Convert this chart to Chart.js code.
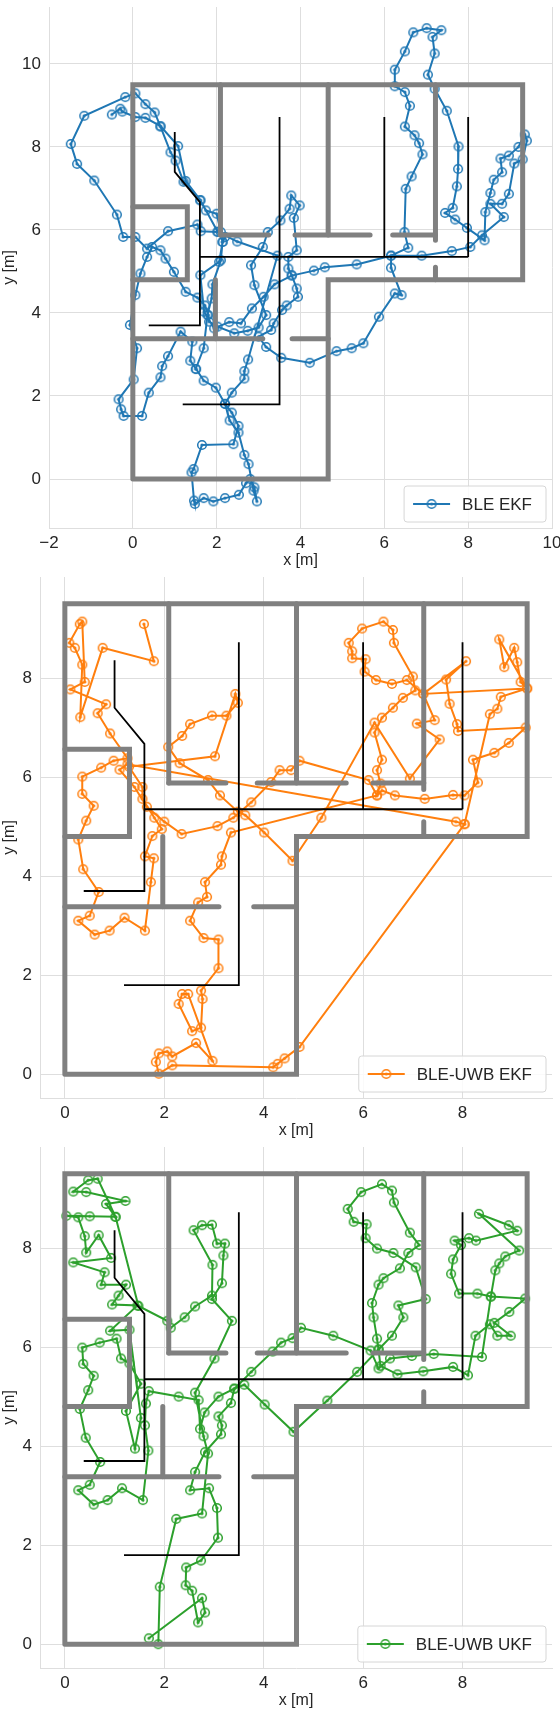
<!DOCTYPE html>
<html>
<head>
<meta charset="utf-8">
<script src="https://cdn.jsdelivr.net/npm/chart.js@4"></script>
<style>
body { margin: 0; background: #fff; }
.panel { position: absolute; left: 0; width: 560px; height: 570px; }
</style>
</head>
<body>
<div class="panel" style="top:0"><canvas id="c1"></canvas></div>
<div class="panel" style="top:570px"><canvas id="c2"></canvas></div>
<div class="panel" style="top:1140px"><canvas id="c3"></canvas></div>
<script>
// floor plan, metres
const grayWalls = [
    [[0, 0], [4.66, 0], [4.66, 4.8], [9.3, 4.8], [9.3, 9.5], [0, 9.5], [0, 0]],
    [[2.09, 9.5], [2.09, 5.88]],
    [[4.66, 9.5], [4.66, 5.88]],
    [[7.22, 9.5], [7.22, 5.75]],
    [[2.09, 5.88], [3.24, 5.88]],
    [[3.87, 5.88], [5.66, 5.88]],
    [[6.2, 5.88], [7.22, 5.88]],
    [[7.22, 5.1], [7.22, 4.8]],
    [[0, 6.56], [1.3, 6.56], [1.3, 4.8], [0, 4.8]],
    [[1.97, 4.8], [1.97, 3.38]],
    [[0, 3.38], [3.1, 3.38]],
    [[3.8, 3.38], [4.66, 3.38]]
];
const blackWalls = [
    [[1.0, 8.36], [1.0, 7.4], [1.6, 6.67], [1.6, 3.7], [0.38, 3.7]],
    [[3.5, 8.72], [3.5, 1.8], [1.19, 1.8]],
    [[1.6, 5.35], [8.0, 5.35]],
    [[6.0, 8.72], [6.0, 5.35]],
    [[8.0, 8.72], [8.0, 5.35]]
];

const bleEkf = [
    [-0.5, 8.78], [-0.3, 8.92], [-0.25, 8.85], [0.06, 8.72], [0.3, 8.7], [0.66, 8.5], [1.08, 8.02],
    [1.26, 7.18], [1.61, 6.72], [2.02, 5.96], [2.49, 5.72], [3.45, 5.38],
    [2.75, 2.88], [2.66, 2.6], [2.66, 2.42], [2.36, 2.08], [2.2, 1.81], [2.36, 1.6], [2.52, 1.28],
    [2.4, 0.84], [1.65, 0.82], [1.45, 0.24], [1.4, 0.16], [1.46, -0.52], [1.48, -0.6], [1.69, -0.46],
    [1.92, -0.54], [2.2, -0.46], [2.53, -0.38], [2.7, -0.1], [2.8, 0.0], [2.9, -0.2], [2.96, -0.54],
    [2.88, -0.28], [2.76, 0.36], [2.66, 0.58], [2.52, 1.12], [2.31, 1.41], [2.2, 1.81], [1.98, 2.2],
    [1.69, 2.37], [1.51, 2.65], [1.37, 2.85], [1.42, 3.31], [1.14, 3.55], [0.84, 2.96], [0.7, 2.72],
    [0.66, 2.45], [0.38, 2.08], [0.22, 1.52], [-0.22, 1.52], [-0.28, 1.68], [-0.34, 1.92], [0.02, 2.4],
    [0.1, 3.15], [-0.07, 3.71], [0.06, 4.43], [0.18, 4.95], [0.34, 5.35], [0.46, 5.59], [0.66, 5.51],
    [0.78, 5.31], [0.98, 4.99], [1.26, 4.51], [1.54, 4.37], [1.72, 4.18], [1.8, 3.95], [1.82, 3.79],
    [2.02, 3.67], [2.42, 3.51], [2.74, 3.57], [3.0, 3.65], [3.18, 3.95], [2.9, 4.67], [2.82, 5.15],
    [3.1, 5.59], [3.22, 5.95], [3.52, 6.23], [3.74, 6.51], [3.78, 6.83], [3.98, 6.59], [3.84, 6.29],
    [3.91, 5.51], [3.71, 5.35], [3.71, 5.07], [3.79, 4.91], [3.91, 4.59], [3.94, 4.39], [3.67, 4.18],
    [3.56, 4.07], [3.36, 3.75], [3.3, 3.59], [3.0, 3.43], [3.18, 3.18], [3.54, 2.92], [4.22, 2.8],
    [4.86, 3.08], [5.22, 3.15], [5.5, 3.27], [5.87, 3.91], [6.25, 4.47], [6.41, 4.43], [6.16, 5.09],
    [6.16, 5.38], [6.57, 5.57], [6.48, 5.95], [6.51, 6.99], [6.65, 7.29], [6.91, 7.82], [6.83, 8.09],
    [6.72, 8.28], [6.49, 8.49], [6.61, 8.99], [6.49, 9.32], [6.25, 9.46], [6.25, 9.86], [6.49, 10.3],
    [6.69, 10.76], [7.01, 10.86], [7.36, 10.81], [7.15, 10.65], [7.2, 10.25], [7.04, 9.74], [7.2, 9.4],
    [7.49, 8.87], [7.77, 8.01], [7.76, 7.47], [7.73, 7.05], [7.63, 6.53], [7.45, 6.41], [7.69, 6.25],
    [7.97, 6.05], [8.39, 5.75], [8.41, 6.43], [8.53, 6.89], [8.61, 7.21], [8.81, 7.39], [8.77, 7.72],
    [8.97, 7.79], [9.2, 8.0], [9.35, 8.3], [9.4, 8.15], [9.3, 7.7], [9.1, 7.6], [8.97, 6.87],
    [8.81, 6.63], [8.53, 6.63], [8.85, 6.31], [8.33, 5.87], [8.05, 5.59], [7.61, 5.49], [6.89, 5.38],
    [6.16, 5.38], [5.34, 5.17], [4.58, 5.1], [4.32, 5.02], [3.79, 4.9], [3.38, 4.69], [3.12, 4.39],
    [2.84, 4.11], [2.58, 3.75], [2.3, 3.78], [1.94, 3.63], [1.7, 4.03], [1.61, 4.91], [2.06, 5.23],
    [2.14, 5.71], [2.2, 5.83], [2.02, 5.95], [1.62, 5.97], [1.54, 6.13], [0.84, 5.97], [0.34, 5.55],
    [0.06, 5.83], [-0.23, 5.83], [-0.38, 6.37], [-0.92, 7.19], [-1.33, 7.59], [-1.48, 8.07],
    [-1.16, 8.75], [-0.18, 9.2], [0.06, 9.29], [0.3, 9.03], [0.52, 8.83], [0.66, 8.49], [0.9, 7.87],
    [1.02, 7.67], [1.21, 7.16], [1.61, 6.71], [1.74, 6.47], [2.0, 6.39], [2.1, 5.95], [2.14, 5.71],
    [2.1, 5.27], [1.9, 4.69], [1.88, 4.35], [1.78, 3.95], [1.69, 3.15], [1.5, 2.65]
];

const bleUwbEkf = [
    [1.59, 9.09], [1.79, 8.34], [0.76, 8.61], [0.31, 7.21], [0.35, 8.27], [0.2, 8.61], [0.09, 8.71],
    [0.3, 9.09], [0.35, 9.14], [0.4, 7.92], [0.11, 7.77], [0.83, 7.47], [0.66, 7.29], [0.91, 6.88],
    [1.26, 6.38], [0.98, 6.33], [0.73, 6.19], [0.35, 6.01], [0.35, 5.66], [0.58, 5.42], [0.43, 5.12],
    [0.27, 4.74], [0.37, 4.14], [0.68, 3.68], [0.5, 3.2], [0.27, 3.1], [0.6, 2.82], [0.9, 2.9],
    [1.2, 3.16], [1.61, 2.9], [1.73, 3.88], [1.79, 4.36], [1.61, 4.4], [1.76, 4.81], [1.95, 4.95],
    [1.8, 5.18], [1.56, 5.56], [1.56, 5.8], [1.29, 6.21], [3.02, 6.42], [3.43, 7.68], [3.48, 7.5],
    [3.25, 7.24], [2.96, 7.24], [2.52, 7.07], [2.36, 6.83], [2.08, 6.61], [2.31, 6.28], [2.88, 5.94],
    [3.12, 5.63], [3.48, 5.3], [3.63, 5.23], [4.01, 4.88], [4.58, 4.31], [5.16, 5.18], [6.23, 7.1],
    [6.94, 5.97], [7.54, 6.76], [7.08, 7.08], [7.44, 7.15], [7.21, 7.68], [6.88, 7.96], [6.58, 7.88],
    [6.26, 7.96], [6.03, 8.13], [6.05, 8.38], [5.78, 8.4], [5.78, 8.54], [5.71, 8.71], [5.98, 9.0],
    [6.41, 9.14], [6.6, 8.97], [6.62, 8.71], [7.0, 8.03], [7.05, 7.75], [6.8, 7.6], [6.6, 7.4],
    [6.38, 7.2], [6.23, 6.9], [6.38, 6.35], [6.28, 6.14], [6.35, 5.87], [6.28, 5.63], [6.38, 5.73],
    [6.64, 5.63], [7.24, 5.56], [7.81, 5.64], [8.04, 5.63], [8.31, 5.89], [8.21, 6.35], [8.64, 6.49],
    [8.93, 6.69], [9.27, 7.0], [7.91, 6.93], [7.89, 7.07], [7.74, 7.48], [7.67, 7.97], [8.07, 8.34],
    [7.21, 7.68], [9.3, 7.79], [9.17, 7.92], [9.1, 8.32], [9.04, 8.61], [8.84, 8.22], [8.74, 8.78],
    [9.3, 7.79], [8.77, 7.62], [8.7, 7.38], [8.55, 7.27], [8.04, 5.05], [7.87, 5.1], [1.26, 6.26],
    [1.1, 6.15], [1.4, 5.8], [1.65, 5.4], [2.0, 5.1], [2.35, 4.85], [3.07, 5.01], [3.39, 5.18],
    [3.75, 5.49], [4.15, 5.9], [4.32, 6.14], [4.55, 6.14], [4.72, 6.33], [6.11, 5.94], [6.28, 5.63],
    [3.34, 4.88], [3.16, 4.4], [3.14, 4.23], [2.82, 3.88], [2.86, 3.58], [2.68, 3.47], [2.52, 3.1],
    [2.79, 2.75], [3.09, 2.72], [3.09, 2.14], [2.74, 1.69], [2.77, 1.52], [2.74, 0.94], [2.56, 0.87],
    [2.29, 1.42], [2.36, 1.62], [2.48, 1.62], [2.97, 0.27], [2.64, 0.63], [2.16, 0.36], [2.06, 0.46],
    [1.89, 0.42], [1.83, 0.25], [1.89, 0.01], [2.16, 0.18], [4.19, 0.14], [4.28, 0.21], [4.42, 0.32],
    [4.72, 0.55], [8.04, 5.05]
];

const bleUwbUkf = [
    [1.69, 0.12], [2.76, 0.93], [2.82, 0.64], [2.68, 0.44], [2.56, 1.08], [2.43, 1.19], [2.44, 1.55],
    [2.74, 1.69], [3.08, 2.15], [3.06, 2.75], [2.9, 3.15], [2.52, 3.11], [2.62, 3.48], [2.82, 3.88],
    [3.14, 4.24], [3.16, 4.42], [3.09, 4.6], [3.34, 4.87], [3.41, 5.16], [3.61, 5.24], [4.02, 4.84],
    [4.6, 4.29], [5.28, 4.92], [5.88, 5.5], [6.31, 5.95], [6.58, 6.23], [6.81, 6.6], [6.71, 6.84],
    [7.26, 6.97], [7.06, 7.61], [6.61, 7.9], [6.28, 7.99], [6.05, 8.2], [6.07, 8.48], [5.81, 8.53],
    [5.69, 8.79], [5.96, 9.13], [6.38, 9.29], [6.58, 9.16], [6.62, 8.92], [6.94, 8.31], [7.13, 8.06],
    [6.91, 7.9], [6.74, 7.59], [6.41, 7.39], [6.31, 7.26], [6.18, 6.89], [6.21, 6.6], [6.28, 6.17],
    [6.31, 5.95], [6.35, 5.62], [6.69, 5.45], [7.21, 5.51], [7.81, 5.6], [8.11, 5.43], [8.26, 6.23],
    [8.55, 6.46], [8.7, 6.23], [8.97, 6.23], [8.64, 6.49], [8.94, 6.71], [9.26, 6.98], [8.57, 7.02],
    [8.3, 7.08], [7.93, 7.08], [7.77, 7.48], [7.81, 7.77], [7.97, 8.06], [7.84, 8.15], [8.13, 8.2],
    [8.27, 8.15], [9.1, 8.35], [8.93, 8.46], [8.33, 8.69], [9.14, 7.95], [8.86, 7.83], [8.74, 7.69],
    [8.66, 7.55], [8.57, 7.02], [8.39, 5.8], [7.42, 5.86], [6.98, 5.82], [6.54, 5.77], [6.31, 5.57],
    [6.15, 5.93], [5.4, 6.23], [4.75, 6.39], [4.58, 6.18], [4.35, 6.09], [4.18, 5.91], [3.75, 5.5],
    [3.41, 5.16], [3.09, 5.0], [2.81, 4.68], [2.72, 4.35], [2.69, 4.93], [2.29, 5.0], [1.69, 5.11],
    [1.63, 4.86], [1.61, 4.42], [1.68, 3.91], [1.57, 2.91], [1.15, 3.15], [0.86, 2.91], [0.58, 2.82],
    [0.27, 3.11], [0.5, 3.22], [0.71, 3.68], [0.42, 4.17], [0.3, 4.75], [0.47, 5.13], [0.58, 5.42],
    [0.37, 5.66], [0.35, 5.99], [0.7, 6.09], [1.04, 6.17], [1.13, 5.77], [1.3, 5.67], [1.53, 5.26],
    [1.23, 4.71], [1.41, 3.95], [1.53, 4.57], [1.3, 6.35], [0.91, 6.33], [1.46, 6.84], [0.95, 6.86],
    [1.08, 7.04], [1.23, 7.26], [0.73, 7.26], [0.8, 7.51], [0.17, 7.71], [0.93, 7.8], [0.68, 8.26],
    [0.43, 7.91], [0.4, 8.24], [0.27, 8.62], [0.03, 8.65], [0.5, 8.64], [1.02, 8.63], [0.83, 8.89],
    [1.22, 8.95], [0.43, 9.13], [0.17, 9.14], [0.47, 9.37], [0.66, 9.4], [1.02, 8.63], [1.48, 6.83],
    [2.06, 6.53], [2.13, 6.39], [2.41, 6.6], [2.62, 6.82], [2.96, 7.04], [2.97, 7.66], [2.59, 8.36],
    [2.76, 8.46], [2.96, 8.47], [3.06, 8.09], [3.22, 8.09], [3.19, 7.85], [3.16, 7.29], [2.96, 6.97],
    [3.36, 6.53], [3.01, 5.77], [2.62, 5.08], [2.79, 4.2], [2.88, 3.85], [2.76, 2.64], [2.24, 2.53],
    [1.91, 1.16], [1.88, 0.0]
];

const panels = [
    { id: 'c1', label: 'BLE EKF', data: bleEkf, color: '#1f77b4',
      xMin: -2, xMax: 10, yMin: -1.18, yMax: 11.37, yWidth: 49,
      xTicks: [-2, 0, 2, 4, 6, 8, 10], yTicks: [0, 2, 4, 6, 8, 10] },
    { id: 'c2', label: 'BLE-UWB EKF', data: bleUwbEkf, color: '#ff7f0e',
      xMin: -0.5, xMax: 9.8, yMin: -0.48, yMax: 10.04, yWidth: 40,
      xTicks: [0, 2, 4, 6, 8], yTicks: [0, 2, 4, 6, 8] },
    { id: 'c3', label: 'BLE-UWB UKF', data: bleUwbUkf, color: '#2ca02c',
      xMin: -0.5, xMax: 9.8, yMin: -0.48, yMax: 10.04, yWidth: 40,
      xTicks: [0, 2, 4, 6, 8], yTicks: [0, 2, 4, 6, 8] }
];

// circle with a dot in the middle, like the matplotlib markers
function ringMarker(color) {
    const c = document.createElement('canvas');
    c.width = 12; c.height = 12;
    const g = c.getContext('2d');
    g.strokeStyle = color;
    g.lineWidth = 1.5;
    g.beginPath(); g.arc(6, 6, 4.3, 0, Math.PI * 2); g.stroke();
    g.fillStyle = color;
    g.beginPath(); g.arc(6, 6, 1.6, 0, Math.PI * 2); g.fill();
    return c;
}

const toXY = arr => arr.map(p => ({ x: p[0], y: p[1] }));
const fmt = v => String(v).replace('-', '\u2212');
const FAMILY = '"Liberation Sans", Arial, sans-serif';

const legendBox = {
    id: 'legendBox',
    afterDraw(chart, args, opts) {
        const { ctx, chartArea } = chart;
        ctx.save();
        ctx.font = '17px ' + FAMILY;
        const tw = ctx.measureText(opts.text).width;
        const w = tw + 72, h = 36;
        const x = chartArea.right - w - 6, y = chartArea.bottom - h - 6;
        ctx.fillStyle = 'rgba(255,255,255,0.85)';
        ctx.strokeStyle = '#d6d6d6';
        ctx.lineWidth = 1;
        ctx.beginPath();
        ctx.roundRect(x, y, w, h, 3);
        ctx.fill(); ctx.stroke();
        ctx.strokeStyle = opts.color;
        ctx.lineWidth = 2;
        ctx.beginPath(); ctx.moveTo(x + 9, y + h / 2); ctx.lineTo(x + 46, y + h / 2); ctx.stroke();
        ctx.drawImage(opts.marker, x + 21.5, y + h / 2 - 6);
        ctx.fillStyle = '#262626';
        ctx.textBaseline = 'middle';
        ctx.fillText(opts.text, x + 58, y + h / 2 + 1);
        ctx.restore();
    }
};

panels.forEach(p => {
    const marker = ringMarker(p.color);
    const datasets = [];
    grayWalls.forEach(seg => datasets.push({
        data: toXY(seg), borderColor: '#808080', borderWidth: 5, pointRadius: 0,
        borderCapStyle: 'round'
    }));
    blackWalls.forEach(seg => datasets.push({
        data: toXY(seg), borderColor: '#000', borderWidth: 1.8, pointRadius: 0
    }));
    datasets.push({
        label: p.label, data: toXY(p.data), borderColor: p.color, backgroundColor: p.color,
        borderWidth: 2, pointStyle: marker, pointRadius: 5
    });

    const tickFont = { family: FAMILY, size: 17 };
    const titleFont = { family: FAMILY, size: 16 };
    new Chart(document.getElementById(p.id), {
        type: 'line',
        data: { datasets },
        plugins: [legendBox],
        options: {
            responsive: true,
            maintainAspectRatio: false,
            animation: false,
            layout: { padding: { top: 2, right: 8, left: 0, bottom: 0 } },
            plugins: {
                legend: { display: false },
                tooltip: { enabled: false },
                legendBox: { text: p.label, color: p.color, marker: marker }
            },
            scales: {
                x: {
                    type: 'linear', min: p.xMin, max: p.xMax,
                    afterBuildTicks: s => { s.ticks = p.xTicks.map(v => ({ value: v })); },
                    afterFit: s => { s.height = 42; s.paddingLeft = 0; s.paddingRight = 0; },
                    grid: { color: '#dedede', drawTicks: false },
                    border: { color: '#dedede' },
                    ticks: { color: '#262626', font: tickFont, padding: 5, callback: v => fmt(v) },
                    title: { display: true, text: 'x [m]', color: '#262626', padding: { top: 0, bottom: 0 },
                             font: titleFont }
                },
                y: {
                    type: 'linear', min: p.yMin, max: p.yMax,
                    afterBuildTicks: s => { s.ticks = p.yTicks.map(v => ({ value: v })); },
                    afterFit: s => { s.width = p.yWidth; s.paddingTop = 0; s.paddingBottom = 0; },
                    grid: { color: '#dedede', drawTicks: false },
                    border: { color: '#dedede' },
                    ticks: { color: '#262626', font: tickFont, padding: 8, callback: v => fmt(v) },
                    title: { display: true, text: 'y [m]', color: '#262626', padding: { top: 0, bottom: 0 },
                             font: titleFont }
                }
            }
        }
    });
});
</script>
</body>
</html>
